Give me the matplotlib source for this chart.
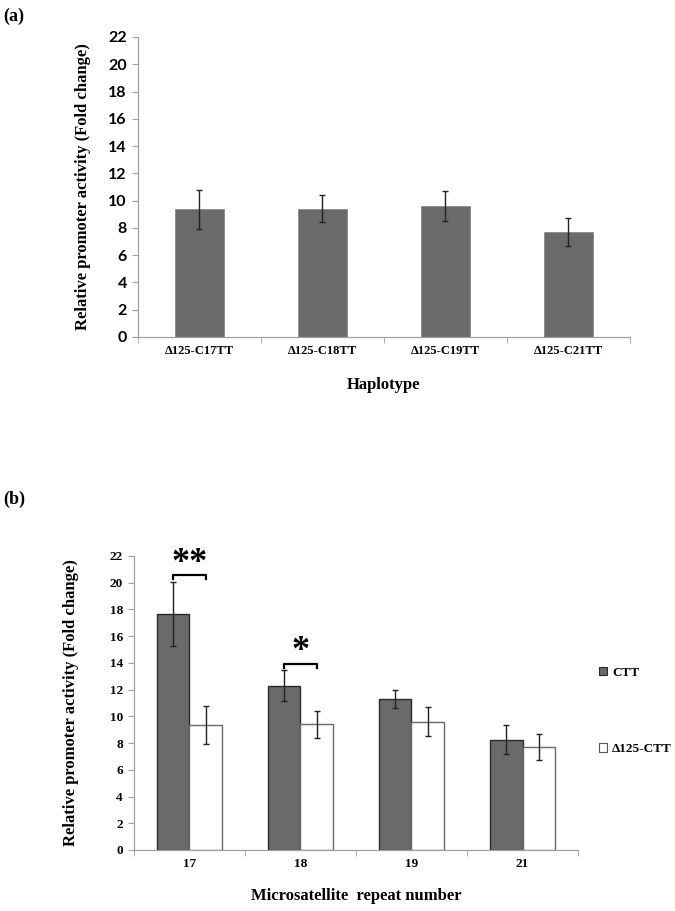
import numpy as np
import matplotlib.pyplot as plt
from matplotlib.patches import Patch

# panel (a) data
haplotypes = ["\u0394125-C17TT", "\u0394125-C18TT", "\u0394125-C19TT", "\u0394125-C21TT"]
hap_mean = [9.35, 9.4, 9.6, 7.7]
hap_err = [1.4, 1.0, 1.1, 1.0]

# panel (b) data
repeats = ["17", "18", "19", "21"]
ctt_mean = [17.65, 12.3, 11.3, 8.25]
ctt_err = [2.4, 1.15, 0.67, 1.1]
del_mean = [9.35, 9.4, 9.6, 7.7]
del_err = [1.4, 1.0, 1.1, 1.0]
sig_marks = ["**", "*", "", ""]

SERIF = "Liberation Serif"
SANS = "Lato"
DARK = "#6a6a6a"
AXC = "#a0a0a0"

fig = plt.figure(figsize=(6.75, 9.11), dpi=100)


def style_axes(ax, n):
    for s in ["top", "right"]:
        ax.spines[s].set_visible(False)
    for s in ["left", "bottom"]:
        ax.spines[s].set_color(AXC)
        ax.spines[s].set_linewidth(0.9)
    ax.set_xlim(-0.5, n - 0.5)
    ax.set_ylim(0, 22)
    ax.set_yticks(np.arange(0, 23, 2))
    ax.set_xticks(np.arange(-0.5, n, 1.0), minor=True)
    ax.tick_params(axis="x", which="major", length=0, pad=6)
    ax.tick_params(axis="x", which="minor", length=4, color=AXC)
    ax.tick_params(axis="y", length=4, color=AXC, pad=4)


# ---- panel (a)
ax1 = fig.add_axes([0.2044, 0.6301, 0.7289, 0.3293])
x = np.arange(len(haplotypes))
ax1.bar(x, hap_mean, 0.4, color=DARK, edgecolor="#8a8a8a", linewidth=0.6,
        yerr=hap_err, capsize=2.5, error_kw=dict(elinewidth=1.0, ecolor="#222222", capthick=1.0))
style_axes(ax1, len(haplotypes))
ax1.set_xticks(x)
ax1.set_xticklabels(haplotypes, fontfamily=SERIF, fontweight="bold", fontsize=9)
for t in ax1.get_yticklabels():
    t.set_fontfamily(SANS)
    t.set_fontweight("bold")
    t.set_fontsize(11.5)
ax1.set_ylabel("Relative promoter activity (Fold change)", fontfamily=SERIF,
               fontweight="bold", fontsize=12, labelpad=12)
ax1.set_xlabel("Haplotype", fontfamily=SERIF, fontweight="bold", fontsize=12, labelpad=14)
fig.text(0.005, 0.982, "(a)", fontfamily=SERIF, fontweight="bold", fontsize=13, va="center")

# ---- panel (b)
ax2 = fig.add_axes([0.1985, 0.0670, 0.6578, 0.3227])
x = np.arange(len(repeats))
w = 0.29
ekw = dict(elinewidth=1.0, ecolor="#222222", capthick=1.0)
ax2.bar(x - w / 2, ctt_mean, w, color=DARK, edgecolor="#2a2a2a", linewidth=1.0,
        yerr=ctt_err, capsize=2.5, error_kw=ekw, label="CTT")
ax2.bar(x + w / 2, del_mean, w, color="white", edgecolor="#6a6a6a", linewidth=1.0,
        yerr=del_err, capsize=2.5, error_kw=ekw, label="\u0394125-CTT")
style_axes(ax2, len(repeats))
ax2.set_xticks(x)
ax2.set_xticklabels(repeats, fontfamily=SERIF, fontweight="bold", fontsize=9.5)
for t in ax2.get_yticklabels():
    t.set_fontfamily(SERIF)
    t.set_fontweight("bold")
    t.set_fontsize(9.5)
ax2.set_ylabel("Relative promoter activity (Fold change)", fontfamily=SERIF,
               fontweight="bold", fontsize=12, labelpad=22)
ax2.set_xlabel("Microsatellite  repeat number", fontfamily=SERIF, fontweight="bold",
               fontsize=12, labelpad=13)
fig.text(0.005, 0.452, "(b)", fontfamily=SERIF, fontweight="bold", fontsize=13, va="center")

# significance brackets
for i, mark in enumerate(sig_marks):
    if not mark:
        continue
    top = max(ctt_mean[i] + ctt_err[i], del_mean[i] + del_err[i])
    yb = top + 0.5
    x0, x1 = i - w / 2, i + w / 2
    ax2.plot([x0, x0, x1, x1], [yb - 0.3, yb, yb, yb - 0.3], color="black", lw=1.6)
    ax2.text(i, yb - 0.35, mark, ha="center", va="bottom", fontsize=26,
             fontfamily=SERIF, fontweight="bold")

handles = [Patch(facecolor=DARK, edgecolor="#2a2a2a", linewidth=0.8, label="CTT"),
           Patch(facecolor="white", edgecolor="#555555", linewidth=0.8, label="\u0394125-CTT")]
ax2.legend(handles=handles, loc="center left", bbox_to_anchor=(1.02, 0.473), frameon=False,
           handlelength=0.6, handleheight=0.6, handletextpad=0.4, labelspacing=4.9,
           prop=dict(family=SERIF, weight="bold", size=9.5))

fig.savefig("out.png", dpi=100)
